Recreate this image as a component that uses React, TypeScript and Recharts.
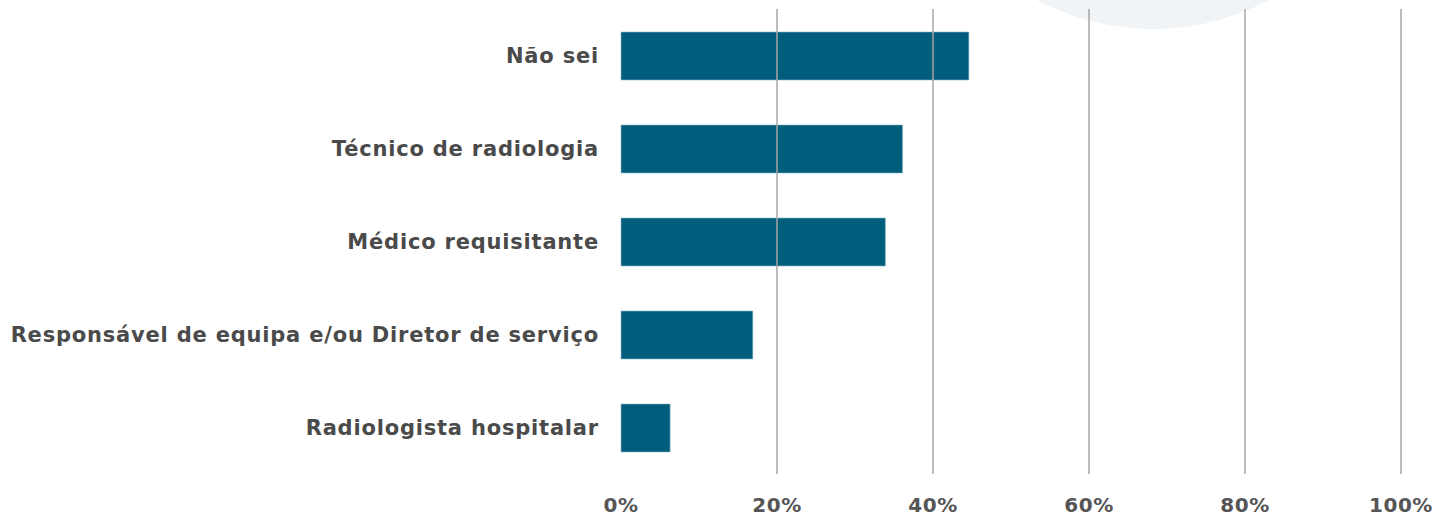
import { BarChart, Bar, XAxis, YAxis, ReferenceLine } from 'recharts';

const categories = [
  'Não sei',
  'Técnico de radiologia',
  'Médico requisitante',
  'Responsável de equipa e/ou Diretor de serviço',
  'Radiologista hospitalar',
];
const shares = [44.6, 36.1, 33.9, 16.9, 6.3];
const xTicks = [0, 20, 40, 60, 80, 100];

const chartData = categories.map((name, i) => ({ name, value: shares[i] }));

const labelFont = '"DejaVu Sans", sans-serif';

export default function App() {
  return (
    <div style={{ position: 'absolute', left: 0, top: 0, width: 1435, height: 517, overflow: 'hidden', background: '#fff' }}>
      {/* decorative pale circle behind the plot */}
      <svg width={1435} height={517} style={{ position: 'absolute', left: 0, top: 0 }}>
        <circle cx={1153} cy={-219} r={248} fill="#f1f4f7" />
      </svg>
      <div style={{ position: 'absolute', left: 0, top: 0 }}>
        <BarChart
          width={1435}
          height={517}
          data={chartData}
          layout="vertical"
          margin={{ top: 9, right: 34, bottom: 3, left: 0 }}
          barSize={48}
        >
          <XAxis
            type="number"
            domain={[0, 100]}
            ticks={xTicks}
            tickFormatter={(v: number) => `${v}%`}
            axisLine={false}
            tickLine={false}
            height={40}
            tickMargin={18}
            tick={{ fill: '#555555', fontSize: 20, fontWeight: 700, fontFamily: labelFont, letterSpacing: 0.5 }}
          />
          <YAxis
            type="category"
            dataKey="name"
            width={621}
            axisLine={false}
            tickLine={false}
            tickSize={0}
            tickMargin={22}
            tick={{ fill: '#4a4a4a', fontSize: 21, fontWeight: 700, fontFamily: labelFont, letterSpacing: 0.8 }}
          />
          {xTicks.slice(1).map((t) => (
            <ReferenceLine key={t} x={t} stroke="#a6a6a6" strokeWidth={1.5} />
          ))}
          <Bar
            dataKey="value"
            fill="#005d7c"
            stroke="#8cbccc"
            strokeWidth={0.6}
            isAnimationActive={false}
          />
        </BarChart>
      </div>
    </div>
  );
}
